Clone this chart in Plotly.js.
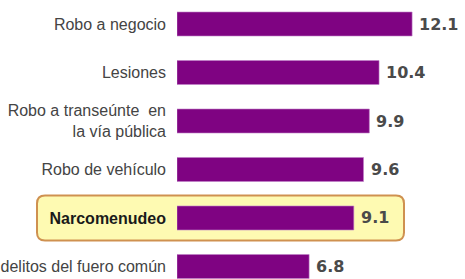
<!DOCTYPE html>
<html><head><meta charset="utf-8">
<script src="https://cdn.plot.ly/plotly-3.0.1.min.js"></script>
<style>html,body{margin:0;padding:0;background:#fff;}#chart{width:465px;height:279px;}</style>
</head><body><div id="chart"></div>
<script>
const categories = ["Robo a negocio", "Lesiones", "Robo a transeúnte  en<br>la vía pública", "Robo de vehículo", "Narcomenudeo", "delitos del fuero común"];
const values = [12.1, 10.4, 9.9, 9.6, 9.1, 6.8];
const valueLabels = ["12.1", "10.4", "9.9", "9.6", "9.1", "6.8"];
const highlighted = "Narcomenudeo";

const idx = categories.map((c, i) => i);
const tickText = categories.map(c => c === highlighted ? '<span style="color:#1a1a1a"><b>' + c + '</b></span>' : c);

const yTop = -0.495, yBottom = 5.258;
const hiIdx = categories.indexOf(highlighted);
const hiPaperY = (yBottom - hiIdx) / (yBottom - yTop);

const trace = {
  type: 'bar', orientation: 'h',
  x: values, y: idx,
  width: 0.495,
  marker: {color: '#7f0382', line: {color: '#c080c8', width: 0.6}},
  hoverinfo: 'none'
};

const annotations = values.map((v, i) => ({
  x: v, y: i, xref: 'x', yref: 'y', text: valueLabels[i],
  showarrow: false, xanchor: 'left', yanchor: 'middle', xshift: 5,
  font: {family: 'DejaVu Sans', size: 16, color: '#4a4a4a', weight: 'bold'}
}));

const r = 8, L = -140, R = 227, H = 22.5;
const path = `M ${L+r},${-H} L ${R-r},${-H} Q ${R},${-H} ${R},${-H+r} L ${R},${H-r} Q ${R},${H} ${R-r},${H} L ${L+r},${H} Q ${L},${H} ${L},${H-r} L ${L},${-H+r} Q ${L},${-H} ${L+r},${-H} Z`;

const layout = {
  width: 465, height: 279,
  margin: {l: 177, r: 16, t: 0, b: 0, pad: 0},
  paper_bgcolor: '#ffffff', plot_bgcolor: 'rgba(0,0,0,0)',
  showlegend: false,
  xaxis: {range: [0, 14], visible: false, fixedrange: true},
  yaxis: {
    range: [yBottom, yTop], tickvals: idx, ticktext: tickText,
    showgrid: false, zeroline: false, showline: false, ticks: '',
    ticklabelstandoff: 10,
    tickfont: {family: 'Liberation Sans', size: 16, color: '#444444'}
  },
  shapes: [{
    type: 'path', layer: 'below',
    xref: 'paper', yref: 'paper',
    xsizemode: 'pixel', ysizemode: 'pixel',
    xanchor: 0, yanchor: hiPaperY,
    path: path,
    fillcolor: '#fefab2',
    line: {color: '#cf9150', width: 2}
  }],
  annotations: annotations
};

Plotly.newPlot('chart', [trace], layout, {displayModeBar: false, staticPlot: true});
</script></body></html>
